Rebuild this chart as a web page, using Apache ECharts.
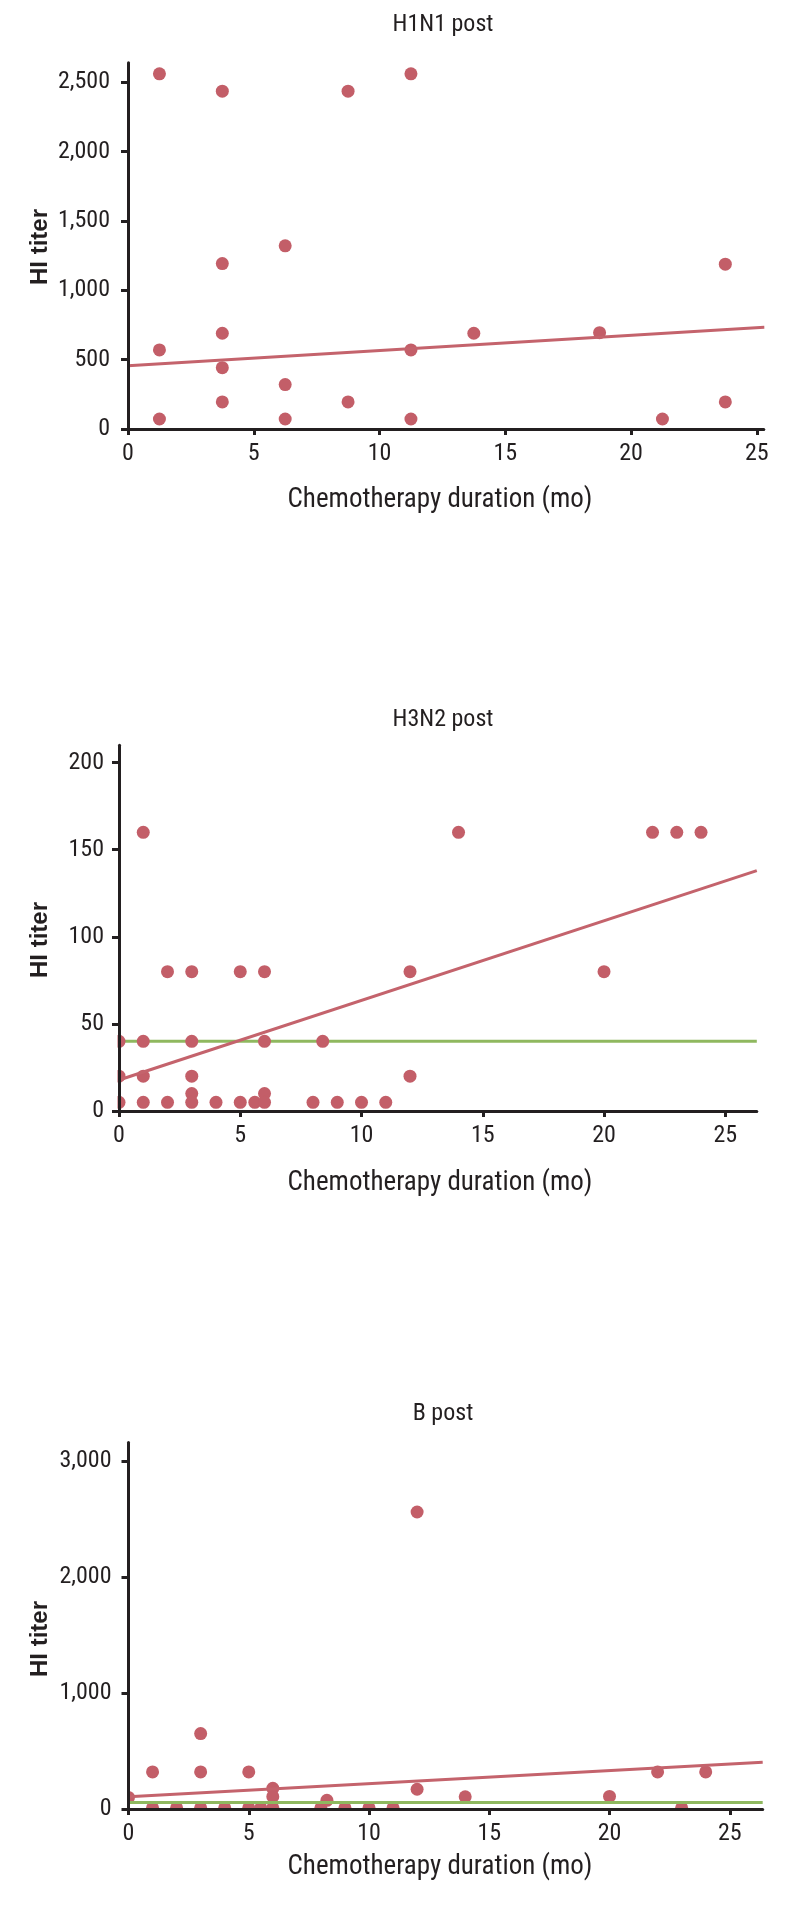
<!DOCTYPE html>
<html>
<head>
<meta charset="utf-8">
<script src="https://cdn.jsdelivr.net/npm/echarts@6/dist/echarts.min.js"></script>
<style>
html,body{margin:0;padding:0;background:#fff;}
#c{width:794px;height:1910px;}
</style>
</head>
<body>
<div id="c"></div>
<script>
// ---- Data ----
var titles = ['H1N1 post', 'H3N2 post', 'B post'];
var xTitle = 'Chemotherapy duration (mo)';
var yTitle = 'HI titer';

var xTicks = [0, 5, 10, 15, 20, 25];
var yTicks1 = [0, 500, 1000, 1500, 2000, 2500];
var yTicks2 = [0, 50, 100, 150, 200];
var yTicks3 = [0, 1000, 2000, 3000];

var h1n1Points = [
  [1.25, 2560], [1.25, 570], [1.25, 72],
  [3.75, 2435], [3.75, 1192], [3.75, 690], [3.75, 442], [3.75, 195],
  [6.25, 1320], [6.25, 320], [6.25, 72],
  [8.75, 2435], [8.75, 195],
  [11.25, 2560], [11.25, 570], [11.25, 72],
  [13.75, 690], [18.75, 694], [21.25, 72],
  [23.75, 1188], [23.75, 195]
];
var h1n1Fit = [[0, 455], [25.3, 733]];

var h3n2Points = [
  [1, 160], [14, 160], [22, 160], [23, 160], [24, 160],
  [2, 80], [3, 80], [5, 80], [6, 80], [12, 80], [20, 80],
  [0, 40], [1, 40], [3, 40], [6, 40], [8.4, 40],
  [0, 20], [1, 20], [3, 20], [12, 20],
  [3, 10], [6, 10],
  [0, 5], [1, 5], [2, 5], [3, 5], [4, 5], [5, 5], [5.6, 5], [6, 5], [8, 5], [9, 5], [10, 5], [11, 5]
];
var h3n2Fit = [[0, 17.8], [26.3, 138]];
var h3n2Ref = [[0, 40], [26.3, 40]];

var bPoints = [
  [0, 100], [1, 10], [1, 320], [2, 10], [3, 650], [3, 320], [3, 10], [4, 10],
  [5, 320], [5, 10], [5.5, 10], [6, 178], [6, 106], [6, 10], [8, 10], [8.25, 75],
  [9, 10], [10, 10], [11, 10], [12, 2560], [12, 170], [14, 105], [20, 108],
  [22, 320], [23, 10], [24, 320]
];
var bFit = [[0, 105], [26.37, 403]];
var bRef = [[0, 55], [26.37, 55]];

// ---- Styling ----
var INK = '#231f20';
var DOT = '#c35e68';
var FIT = '#c4636c';
var REF = '#8fb85f';
var COND = '"Roboto Condensed","Liberation Sans Narrow","Arial Narrow","DejaVu Sans Condensed",sans-serif';
var BOLD = '"Liberation Sans",Arial,sans-serif';

var grids = [
  {left: 128, top: 62.7, width: 635.8, height: 366.3},
  {left: 119, top: 745.2, width: 637.8, height: 365.8},
  {left: 128.5, top: 1442.4, width: 634.2, height: 366.6}
];
var xMax = [25.28, 26.3, 26.37];
var yMax = [2640, 210, 3160];
var yTickSets = [yTicks1, yTicks2, yTicks3];
var yMargins = [18, 15, 17];

function fmt(v){ return String(v).replace(/\B(?=(\d{3})+(?!\d))/g, ','); }

var xAxes = [], yAxes = [], series = [], graphics = [];
for (var i = 0; i < 3; i++) {
  xAxes.push({
    type: 'value', gridIndex: i, min: 0, max: xMax[i], z: 5,
    splitLine: {show: false},
    axisLine: {lineStyle: {color: INK, width: 3}},
    axisTick: {length: 6, lineStyle: {color: INK, width: 3}, customValues: xTicks},
    axisLabel: {color: INK, fontSize: 24, fontFamily: COND, margin: 13, customValues: xTicks, formatter: fmt}
  });
  yAxes.push({
    type: 'value', gridIndex: i, min: 0, max: yMax[i], z: 5,
    splitLine: {show: false},
    axisLine: {show: true, lineStyle: {color: INK, width: 3}},
    axisTick: {show: true, length: 7, lineStyle: {color: INK, width: 3}, customValues: yTickSets[i]},
    axisLabel: {color: INK, fontSize: 24, fontFamily: COND, margin: yMargins[i], customValues: yTickSets[i], formatter: fmt}
  });
  // white masks just outside the plot so dots on the axes look half hidden
  var g = grids[i];
  graphics.push({type: 'rect', z: 4, silent: true,
    shape: {x: g.left - 1, y: g.top + g.height + 1.5, width: g.width + 10, height: 7},
    style: {fill: '#ffffff'}});
  graphics.push({type: 'rect', z: 4, silent: true,
    shape: {x: g.left - 8.5, y: g.top, width: 7, height: g.height + 9},
    style: {fill: '#ffffff'}});
}

function scatter(idx, data, z) {
  return {type: 'scatter', xAxisIndex: idx, yAxisIndex: idx, data: data, symbolSize: 13,
    itemStyle: {color: DOT, opacity: 1}, clip: true, z: z, silent: true};
}
function line(idx, data, color, width, z) {
  return {type: 'line', xAxisIndex: idx, yAxisIndex: idx, data: data, showSymbol: false, symbol: 'none',
    lineStyle: {color: color, width: width}, clip: false, z: z, silent: true, animation: false};
}

series.push(scatter(0, h1n1Points, 2));
series.push(line(0, h1n1Fit, FIT, 3, 3));

series.push(line(1, h3n2Ref, REF, 3, 1));
series.push(scatter(1, h3n2Points, 2));
series.push(line(1, h3n2Fit, FIT, 3, 3));

series.push(scatter(2, bPoints, 1));
series.push(line(2, bRef, REF, 3, 2));
series.push(line(2, bFit, FIT, 3, 3));

var titleY = [25, 720, 1414];
var xTitleY = [500, 1183, 1867];
var yTitleY = [247, 940, 1639];
for (var j = 0; j < 3; j++) {
  graphics.push({type: 'text', x: 443, y: titleY[j], silent: true, z: 6,
    style: {text: titles[j], fill: INK, font: '24px ' + COND, textAlign: 'center', textVerticalAlign: 'middle'}});
  graphics.push({type: 'text', x: 440, y: xTitleY[j], silent: true, z: 6,
    style: {text: xTitle, fill: INK, font: '27px ' + COND, textAlign: 'center', textVerticalAlign: 'middle'}});
  graphics.push({type: 'text', x: 40.5, y: yTitleY[j], rotation: Math.PI / 2, silent: true, z: 6,
    style: {text: yTitle, fill: INK, font: 'bold 24px ' + BOLD, textAlign: 'center', textVerticalAlign: 'middle'}});
}

var chart = echarts.init(document.getElementById('c'), null, {renderer: 'canvas'});
chart.setOption({
  animation: false,
  backgroundColor: '#ffffff',
  grid: grids,
  xAxis: xAxes,
  yAxis: yAxes,
  series: series,
  graphic: graphics
});
</script>
</body>
</html>
